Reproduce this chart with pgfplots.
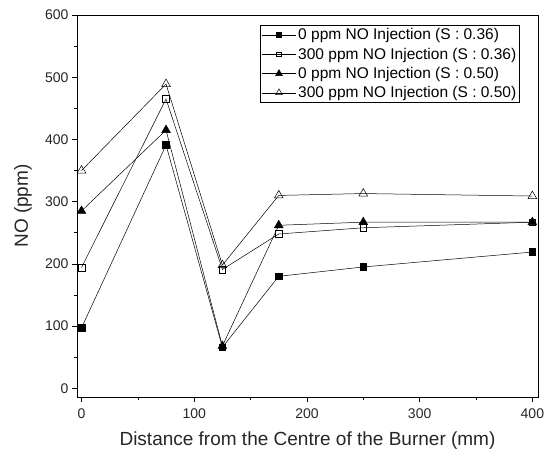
\documentclass[border=0pt]{standalone}
\usepackage{pgfplots}
\pgfplotsset{compat=1.18}
\usepackage{fontspec}
\setmainfont{Liberation Sans}
\begin{document}
\begin{tikzpicture}
\path[use as bounding box] (-77pt,-60pt) rectangle (467pt,397pt);
\begin{axis}[
  at={(0pt,0pt)}, anchor=south west,
  scale only axis, width=461pt, height=382pt,
  xmin=-4, xmax=405, ymin=-14, ymax=600,
  xtick={0,100,200,300,400}, ytick={0,100,...,600},
  minor xtick={50,150,250,350}, minor ytick={50,150,...,550},
  xtick pos=left, ytick pos=left, tick align=outside,
  major tick length=5pt, minor tick length=3pt,
  tick style={black, line width=0.6pt},
  axis line style={line width=0.8pt},
  ticklabel style={font=\fontsize{14}{16}\selectfont, text=black!85},
  xticklabel style={yshift=-3pt},
  /pgf/number format/assume math mode=true,
  xlabel={Distance from the Centre of the Burner (mm)},
  ylabel={NO (ppm)},
  every axis x label/.style={at={(axis description cs:0.5,-0.113)}, anchor=center, font=\fontsize{19}{22}\selectfont, text=black!85},
  every axis y label/.style={at={(axis description cs:-0.117,0.5)}, rotate=90, anchor=center, font=\fontsize{19}{22}\selectfont, text=black!85},
  legend style={at={(0.961,0.974)}, anchor=north east, font=\fontsize{15.5}{17}\selectfont,
    draw=black, line width=0.6pt, inner sep=1.5pt, row sep=2.5pt},
  legend cell align=left,
  legend image code/.code={\draw[mark repeat=2,mark phase=2] plot coordinates {(0pt,0pt) (17pt,0pt) (34pt,0pt)};},
  every axis plot/.append style={black, line width=0.5pt, mark options={solid, line width=0.5pt}},
]
\addplot[mark=square*, mark size=3.3pt, legend image post style={mark size=2.4pt}] coordinates {(0,97) (75,391) (125,66) (175,180) (250,195) (400,219)};
\addlegendentry{0 ppm NO Injection (S : 0.36)}
\addplot[mark=square, mark size=3.3pt, mark options={fill=white}, legend image post style={mark size=2.4pt}] coordinates {(0,194) (75,465) (125,191) (175,248) (250,258) (400,267)};
\addlegendentry{300 ppm NO Injection (S : 0.36)}
\addplot[mark=triangle*, mark size=5pt, legend image post style={mark size=3.9pt}] coordinates {(0,285) (75,415) (125,68) (175,262) (250,267) (400,267)};
\addlegendentry{0 ppm NO Injection (S : 0.50)}
\addplot[mark=triangle, mark size=5pt, mark options={fill=white}, legend image post style={mark size=3.9pt}] coordinates {(0,350) (75,489) (125,198) (175,310) (250,313) (400,309)};
\addlegendentry{300 ppm NO Injection (S : 0.50)}
\end{axis}
\end{tikzpicture}
\end{document}
